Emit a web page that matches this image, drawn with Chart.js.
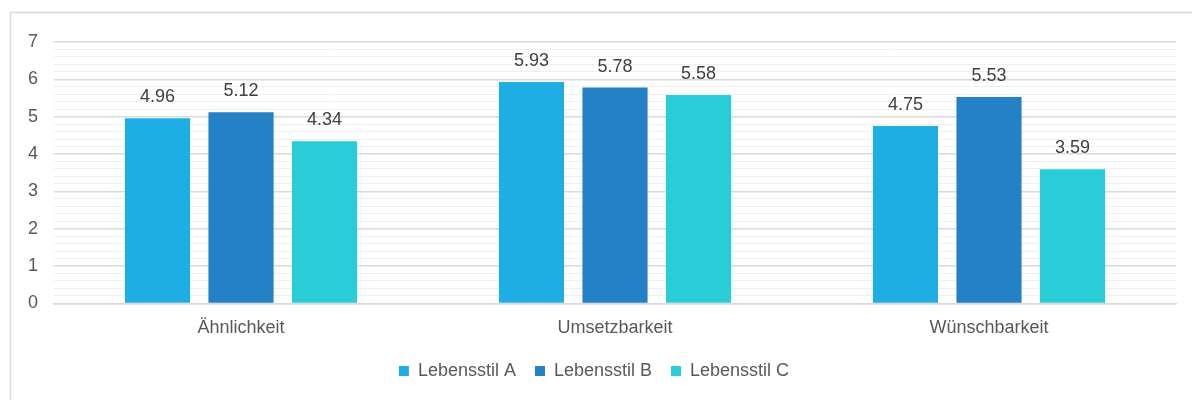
<!DOCTYPE html>
<html>
<head>
<meta charset="utf-8">
<script src="https://cdn.jsdelivr.net/npm/chart.js@4/dist/chart.umd.min.js"></script>
<style>
  body { margin: 0; background: #fff; }
</style>
</head>
<body>
<canvas id="chart" width="1192" height="400"></canvas>
<script>
const categories = ["Ähnlichkeit", "Umsetzbarkeit", "Wünschbarkeit"];
const seriesNames = ["Lebensstil A", "Lebensstil B", "Lebensstil C"];
const lebensstilA = [4.96, 5.93, 4.75];
const lebensstilB = [5.12, 5.78, 5.53];
const lebensstilC = [4.34, 5.58, 3.59];
const colors = ["#1faee3", "#2581c5", "#28cdd7"];

const fontFamily = "'Liberation Sans', Arial, sans-serif";

// frame + value labels
const extras = {
  id: "extras",
  beforeDraw(chart) {
    const ctx = chart.ctx;
    ctx.save();
    ctx.strokeStyle = "#d9d9d9";
    ctx.lineWidth = 1.5;
    ctx.strokeRect(10.5, 12.5, 1200, 420);
    ctx.restore();
  },
  afterDatasetsDraw(chart) {
    const ctx = chart.ctx;
    ctx.save();
    ctx.font = "18px " + fontFamily;
    ctx.fillStyle = "#404040";
    ctx.textAlign = "center";
    ctx.textBaseline = "bottom";
    chart.data.datasets.forEach((ds, i) => {
      chart.getDatasetMeta(i).data.forEach((bar, j) => {
        ctx.fillText(ds.data[j].toFixed(2), bar.x, bar.y - 12);
      });
    });
    ctx.restore();
  }
};

new Chart(document.getElementById("chart"), {
  type: "bar",
  data: {
    labels: categories,
    datasets: [lebensstilA, lebensstilB, lebensstilC].map((vals, i) => ({
      label: seriesNames[i],
      data: vals,
      backgroundColor: colors[i],
      barPercentage: 0.78,
      categoryPercentage: 0.67
    }))
  },
  options: {
    responsive: false,
    animation: false,
    devicePixelRatio: 1,
    layout: { padding: { left: 12, right: 16, top: 42, bottom: 10 } },
    plugins: {
      tooltip: { enabled: false },
      legend: {
        position: "bottom",
        labels: {
          boxWidth: 10,
          boxHeight: 10,
          padding: 19,
          color: "#595959",
          font: { size: 18, family: fontFamily }
        }
      }
    },
    scales: {
      x: {
        grid: { display: false },
        border: { color: "#d9d9d9", width: 1.5 },
        ticks: { color: "#595959", font: { size: 18, family: fontFamily }, padding: 6 },
        afterFit: (scale) => { scale.height -= 2; }
      },
      y: {
        min: 0,
        max: 7,
        border: { display: false },
        grid: {
          color: (c) => Number.isInteger(Math.round(c.tick.value * 1000) / 1000) ? "#d9d9d9" : "#efefef",
          lineWidth: (c) => Number.isInteger(Math.round(c.tick.value * 1000) / 1000) ? 1.5 : 1,
          drawTicks: false
        },
        ticks: {
          stepSize: 0.2,
          autoSkip: false,
          padding: 16,
          color: "#595959",
          font: { size: 18, family: fontFamily },
          callback: (v) => {
            const r = Math.round(v * 1000) / 1000;
            return Number.isInteger(r) ? String(r) : "";
          }
        }
      }
    }
  },
  plugins: [extras]
});
</script>
</body>
</html>
